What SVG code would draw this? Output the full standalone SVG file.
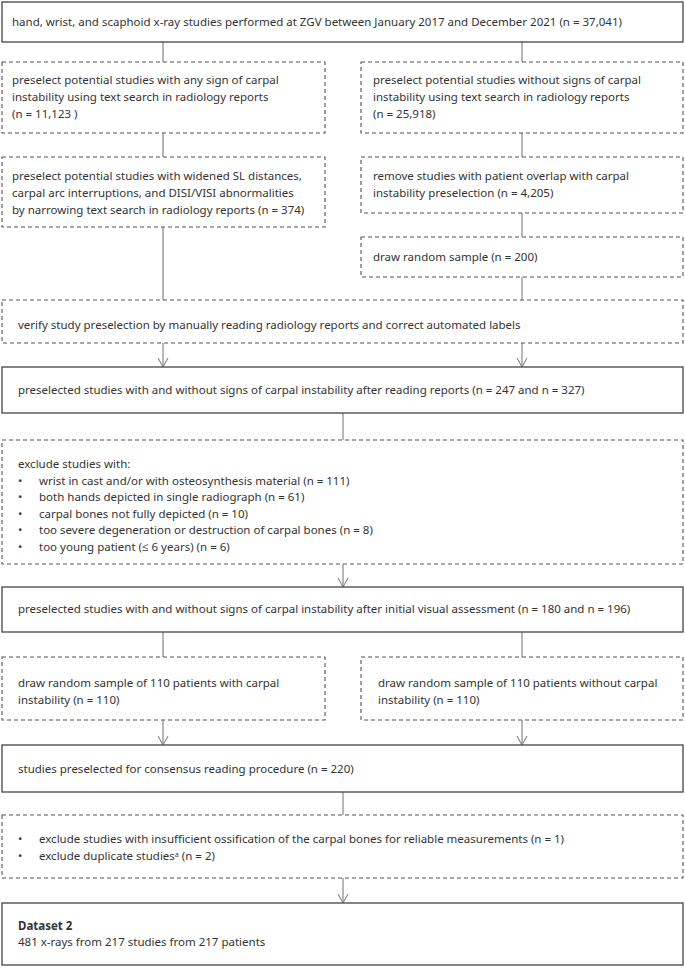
<svg xmlns="http://www.w3.org/2000/svg" width="685" height="968" viewBox="0 0 685 968">
<defs>
<style>
.solid{fill:#fff;stroke:#444;stroke-width:1.3}
.dash{fill:#fff;stroke:#555;stroke-width:1.1;stroke-dasharray:4 3}
.t{font-family:"Noto Sans","Open Sans","DejaVu Sans",sans-serif;font-size:11.5px;fill:#333}
.b{font-weight:bold}
.c{stroke:#888;stroke-width:1.2;fill:none}
</style>
<marker id="arr" viewBox="0 0 12 12" refX="11" refY="6" markerWidth="12" markerHeight="12" markerUnits="userSpaceOnUse" orient="auto">
<path d="M2,1 L11,6 L2,11" fill="none" stroke="#888" stroke-width="1.1"/>
</marker>
</defs>
<rect width="685" height="968" fill="#fff"/>
<g id="connectors">
<path class="c" d="M163,42 V62 M522,42 V62"/>
<path class="c" d="M163,133 V157 M522,133 V157"/>
<path class="c" d="M522,213 V237"/>
<path class="c" d="M163,227 V300 M522,277 V300"/>
<path class="c" d="M163,343 V367" marker-end="url(#arr)"/>
<path class="c" d="M522,343 V367" marker-end="url(#arr)"/>
<path class="c" d="M343,413 V440"/>
<path class="c" d="M343,564 V587" marker-end="url(#arr)"/>
<path class="c" d="M163,632 V657 M522,632 V657"/>
<path class="c" d="M163,720 V745" marker-end="url(#arr)"/>
<path class="c" d="M522,720 V745" marker-end="url(#arr)"/>
<path class="c" d="M343,792 V815"/>
<path class="c" d="M343,878 V903" marker-end="url(#arr)"/>
</g>
<g id="n1"><rect class="solid" x="2" y="2" width="681" height="40"/>
<text class="t" x="12" y="26">hand, wrist, and scaphoid x-ray studies performed at ZGV between January 2017 and December 2021 (n = 37,041)</text></g>
<g id="n2"><rect class="dash" x="2" y="62" width="323" height="71"/>
<text class="t" x="12" y="84">preselect potential studies with any sign of carpal</text>
<text class="t" x="12" y="101">instability using text search in radiology reports</text>
<text class="t" x="12" y="118">(n = 11,123 )</text></g>
<g id="n3"><rect class="dash" x="361" y="62" width="322" height="71"/>
<text class="t" x="373" y="84">preselect potential studies without signs of carpal</text>
<text class="t" x="373" y="101">instability using text search in radiology reports</text>
<text class="t" x="373" y="118">(n = 25,918)</text></g>
<g id="n4"><rect class="dash" x="2" y="157" width="323" height="70"/>
<text class="t" x="12" y="180">preselect potential studies with widened SL distances,</text>
<text class="t" x="12" y="197">carpal arc interruptions, and DISI/VISI abnormalities</text>
<text class="t" x="12" y="214">by narrowing text search in radiology reports (n = 374)</text></g>
<g id="n5"><rect class="dash" x="361" y="157" width="322" height="56"/>
<text class="t" x="373" y="180">remove studies with patient overlap with carpal</text>
<text class="t" x="373" y="197">instability preselection (n = 4,205)</text></g>
<g id="n6"><rect class="dash" x="361" y="237" width="322" height="40"/>
<text class="t" x="373" y="261">draw random sample (n = 200)</text></g>
<g id="n7"><rect class="dash" x="2" y="300" width="681" height="43"/>
<text class="t" x="18" y="329">verify study preselection by manually reading radiology reports and correct automated labels</text></g>
<g id="n8"><rect class="solid" x="2" y="367" width="681" height="46"/>
<text class="t" x="18" y="394">preselected studies with and without signs of carpal instability after reading reports (n = 247 and n = 327)</text></g>
<g id="n9"><rect class="dash" x="2" y="440" width="681" height="124"/>
<text class="t" x="18" y="468">exclude studies with:</text>
<text class="t" x="18" y="485">•</text><text class="t" x="39" y="485">wrist in cast and/or with osteosynthesis material (n = 111)</text>
<text class="t" x="18" y="501">•</text><text class="t" x="39" y="501">both hands depicted in single radiograph (n = 61)</text>
<text class="t" x="18" y="518">•</text><text class="t" x="39" y="518">carpal bones not fully depicted (n = 10)</text>
<text class="t" x="18" y="534">•</text><text class="t" x="39" y="534">too severe degeneration or destruction of carpal bones (n = 8)</text>
<text class="t" x="18" y="551">•</text><text class="t" x="39" y="551">too young patient (≤ 6 years) (n = 6)</text></g>
<g id="n10"><rect class="solid" x="2" y="587" width="681" height="45"/>
<text class="t" x="18" y="613">preselected studies with and without signs of carpal instability after initial visual assessment (n = 180 and n = 196)</text></g>
<g id="n11"><rect class="dash" x="2" y="657" width="323" height="63"/>
<text class="t" x="18" y="687">draw random sample of 110 patients with carpal</text>
<text class="t" x="18" y="704">instability (n = 110)</text></g>
<g id="n12"><rect class="dash" x="361" y="657" width="322" height="63"/>
<text class="t" x="378" y="687">draw random sample of 110 patients without carpal</text>
<text class="t" x="378" y="704">instability (n = 110)</text></g>
<g id="n13"><rect class="solid" x="2" y="745" width="681" height="47"/>
<text class="t" x="18" y="773">studies preselected for consensus reading procedure (n = 220)</text></g>
<g id="n14"><rect class="dash" x="2" y="815" width="681" height="63"/>
<text class="t" x="18" y="843">•</text><text class="t" x="39" y="843">exclude studies with insufficient ossification of the carpal bones for reliable measurements (n = 1)</text>
<text class="t" x="18" y="860">•</text><text class="t" x="39" y="860">exclude duplicate studies<tspan font-size="7" dy="-3">a</tspan><tspan dy="3"> (n = 2)</tspan></text></g>
<g id="n15"><rect class="solid" x="2" y="903" width="681" height="62"/>
<text class="t b" x="18" y="930">Dataset 2</text>
<text class="t" x="18" y="946">481 x-rays from 217 studies from 217 patients</text></g>
</svg>
